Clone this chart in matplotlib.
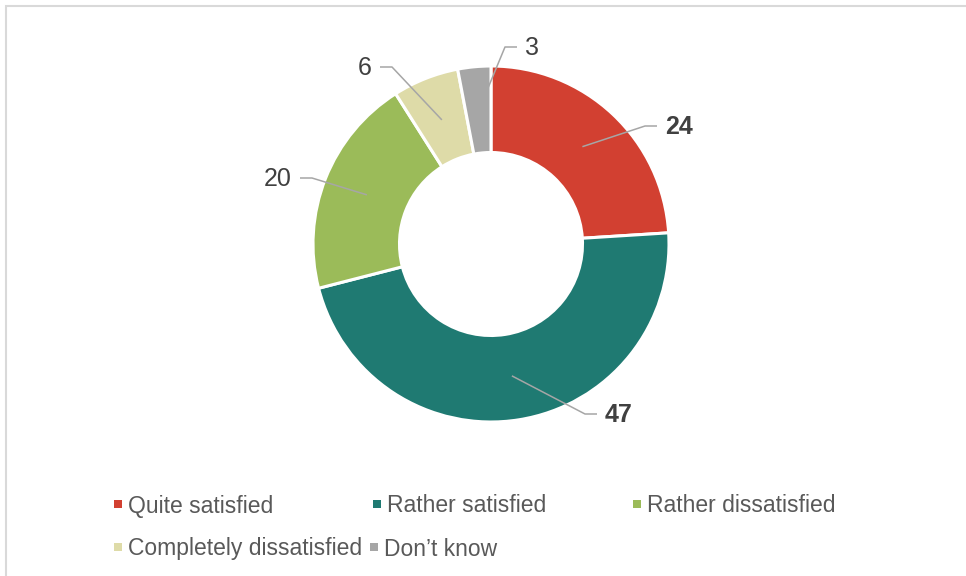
import numpy as np
import matplotlib.pyplot as plt
from matplotlib.patches import Rectangle

# data
categories = ['Quite satisfied', 'Rather satisfied', 'Rather dissatisfied',
              'Completely dissatisfied', "Don\u2019t know"]
values = [24, 47, 20, 6, 3]
colors = ['#D24031', '#1F7A72', '#9BBB59', '#DEDBA8', '#A6A6A6']

W, H = 966, 576
def py(y):
    # pixel y (top down) -> data y
    return H - y

fig = plt.figure(figsize=(W / 100, H / 100), dpi=100)
ax = fig.add_axes([0, 0, 1, 1])

cx, cy, R = 491, 244, 178
ring = 86.5
wedges, _ = ax.pie(values, colors=colors, startangle=90, counterclock=False,
                   radius=R, center=(cx, py(cy)),
                   wedgeprops=dict(width=ring, edgecolor='white', linewidth=2.2))
ax.set_xlim(0, W)
ax.set_ylim(0, H)
ax.set_aspect('equal')
ax.axis('off')

# frame (cut at right / bottom like the source)
ax.add_patch(Rectangle((6, py(6) - 700), 1000, 700, fill=False,
                       edgecolor='#D9D9D9', linewidth=1.5, clip_on=False))

# data labels with leader lines
lab_pos = [(665, 126, 'left'), (605, 414, 'left'), (292, 178, 'right'),
           (372, 67, 'right'), (525, 47, 'left')]
bold = [True, True, False, False, False]
total = sum(values)
start = 90.0
for i, v in enumerate(values):
    sweep = 360.0 * v / total
    mid = np.deg2rad(start - sweep / 2)
    start -= sweep
    rr = R - 44.5
    sx, sy = cx + rr * np.cos(mid), cy - rr * np.sin(mid)
    lx, ly, ha = lab_pos[i]
    d = -1 if ha == 'left' else 1
    ex = lx + d * 8
    bx = ex + d * 12
    ax.plot([sx, bx, ex], [py(sy), py(ly), py(ly)], color='#A6A6A6', lw=1.1,
            solid_capstyle='butt')
    ax.text(lx, py(ly + 1), str(v), ha=ha, va='center', fontsize=18,
            fontweight='bold' if bold[i] else 'normal', color='#404040',
            family='Liberation Sans')

# legend (flow layout as in the source)
leg_pos = [(118, 504), (377, 504), (637, 504), (118, 547), (374, 547)]
for (x, y), c, name in zip(leg_pos, colors, categories):
    ax.add_patch(Rectangle((x - 4, py(y) - 4), 8, 8, color=c, lw=0))
    ax.text(x + 10, py(y + 2), name, ha='left', va='center', fontsize=16.5,
            color='#595959', family='Liberation Sans')

fig.savefig('out.png', dpi=100)
